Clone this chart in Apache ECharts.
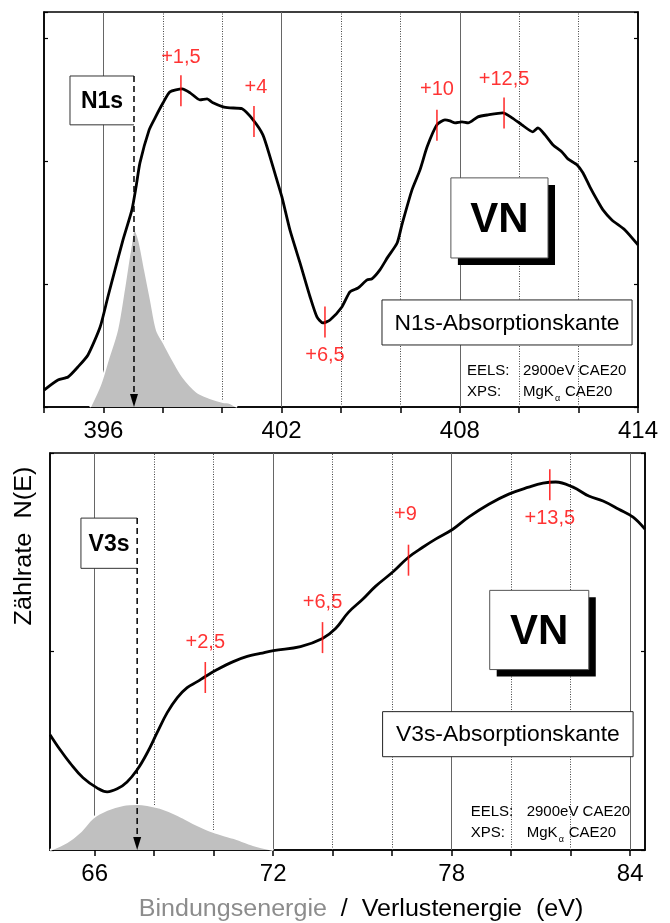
<!DOCTYPE html>
<html>
<head>
<meta charset="utf-8">
<title>VN N1s / V3s</title>
<script src="https://cdn.jsdelivr.net/npm/echarts@6.0.0/dist/echarts.min.js"></script>
<style>
html,body{margin:0;padding:0;background:#fff;}
#chart{width:670px;height:923px;}
</style>
</head>
<body>
<div id="chart"></div>
<script>
// ================= DATA =================
// Top panel: N1s absorption edge (EELS) and N1s XPS line
const n1sEelsEnergy = [394.00,394.47,394.81,395.14,395.48,395.89,396.15,396.39,396.66,396.96,397.10,397.23,397.54,397.74,398.01,398.24,398.65,398.92,399.25,399.49,399.69,400.03,400.26,400.67,401.04,401.37,401.61,401.81,402.01,402.28,402.62,402.96,403.19,403.39,403.63,404.03,404.30,404.57,404.88,405.04,405.31,405.58,405.89,406.05,406.39,406.66,406.90,407.23,407.50,407.67,407.84,408.07,408.28,408.61,408.95,409.45,409.76,410.09,410.46,410.63,410.87,411.14,411.44,411.64,411.95,412.15,412.38,412.62,412.82,413.12,413.56,414.00];
const n1sEelsCounts = [0.138,0.220,0.244,0.325,0.423,0.650,0.894,1.114,1.358,1.602,1.789,1.984,2.252,2.350,2.472,2.561,2.585,2.553,2.496,2.504,2.472,2.439,2.431,2.423,2.333,2.211,2.033,1.870,1.707,1.439,1.171,0.894,0.732,0.683,0.707,0.813,0.935,0.967,1.033,1.041,1.114,1.220,1.333,1.480,1.764,1.927,2.114,2.293,2.333,2.325,2.309,2.317,2.309,2.358,2.374,2.390,2.350,2.293,2.236,2.268,2.211,2.130,2.073,2.016,1.967,1.902,1.789,1.683,1.602,1.520,1.439,1.317];
const n1sXpsEnergy = [395.55,395.89,396.15,396.46,396.69,396.90,397.05,397.20,397.40,397.60,397.80,398.07,398.34,398.68,399.15,399.59,400.03,400.26,400.50];
const n1sXpsCounts = [0,0.179,0.382,0.626,0.951,1.276,1.447,1.358,1.114,0.870,0.626,0.504,0.382,0.244,0.122,0.073,0.041,0.033,0];
const n1sMarkEnergy = [398.61,401.07,403.46,407.23,409.49];
const n1sMarkCounts = [2.57,2.32,0.69,2.29,2.39];
const n1sMarkLabels = ['+1,5','+4','+6,5','+10','+12,5'];

// Bottom panel: V3s absorption edge (EELS) and V3s XPS line
const v3sEelsEnergy = [64.50,64.84,65.17,65.61,66.08,66.42,66.76,67.09,67.43,67.77,68.10,68.44,68.78,69.11,69.45,69.72,70.12,70.66,71.13,71.57,72.01,72.92,73.66,74.10,74.53,75.01,75.44,76.05,76.55,77.03,77.46,78.04,78.57,79.25,79.92,80.59,81.07,81.50,82.08,82.61,83.09,83.62,84.10,84.50];
const v3sEelsCounts = [0.581,0.505,0.439,0.364,0.313,0.293,0.308,0.343,0.404,0.490,0.591,0.692,0.768,0.818,0.848,0.874,0.909,0.949,0.975,0.990,1.005,1.025,1.066,1.116,1.197,1.263,1.328,1.404,1.475,1.525,1.566,1.616,1.677,1.742,1.793,1.828,1.848,1.854,1.828,1.783,1.758,1.717,1.677,1.616];
const v3sXpsEnergy = [64.50,65.07,65.51,65.95,66.42,66.96,67.43,67.77,68.20,68.78,69.31,69.99,70.66,71.33,72.01];
const v3sXpsCounts = [0,0.040,0.091,0.162,0.202,0.227,0.232,0.227,0.212,0.177,0.136,0.091,0.061,0.025,0];
const v3sMarkEnergy = [69.72,73.66,76.55,81.30];
const v3sMarkCounts = [0.869,1.07,1.46,1.84];
const v3sMarkLabels = ['+2,5','+6,5','+9','+13,5'];

// Axes
const topTicks = [394,396,398,400,402,404,406,408,410,412,414];
const topTickLabels = [396,402,408,414];
const topMajorGrid = [396,402,408];
const topMinorGrid = [398,400,404,406,410,412];
const bottomTicks = [66,68,70,72,74,76,78,80,82,84];
const bottomTickLabels = [66,72,78,84];
const bottomMajorGrid = [66,72,78,84];
const bottomMinorGrid = [68,70,74,76,80,82];

// Annotations (data units)
const n1sLineEnergy = 397.03;          // XPS N1s binding energy
const v3sLineEnergy = 67.43;           // XPS V3s binding energy

// ================= LAYOUT / STYLE =================
const FONT = '"Liberation Sans", Arial, Helvetica, sans-serif';
const n1sLabelOffset = [[0,-33],[2,-34],[0,33],[0,-36],[0,-33]];
const v3sLabelOffset = [[0,-35],[0,-35],[-3,-46],[0,34]];
const topAnno = {
  box: {x0: 394.875, x1: n1sLineEnergy, y0: 2.293, y1: 2.69, text: 'N1s'},
  vn: {x0: 407.70, x1: 410.97, y0: 1.211, y1: 1.862},
  edge: {x0: 405.38, x1: 413.80, y0: 0.504, y1: 0.870, text: 'N1s-Absorptionskante'},
  info: {x: 408.24, y0: 0.293, y1: 0.122}
};
const botAnno = {
  box: {x0: 65.54, x1: v3sLineEnergy, y0: 1.419, y1: 1.672, text: 'V3s'},
  vn: {x0: 79.28, x1: 82.61, y0: 0.909, y1: 1.308},
  edge: {x0: 75.68, x1: 84.10, y0: 0.470, y1: 0.697, text: 'V3s-Absorptionskante'},
  info: {x: 78.64, y0: 0.192, y1: 0.086}
};

const pairs = (xs, ys) => xs.map((x, i) => [x, ys[i]]);

const chart = echarts.init(document.getElementById('chart'), null, {renderer: 'canvas'});

function xAxisDef(gi, min, max, ticks, labels) {
  return {
    type: 'value', gridIndex: gi, min: min, max: max, position: 'bottom',
    axisLine: {show: true, onZero: false, lineStyle: {color: '#000', width: 1.5}},
    axisTick: {show: true, inside: false, length: 6, customValues: ticks, lineStyle: {color: '#000', width: 1.5}},
    axisLabel: {show: true, customValues: labels, margin: 12, color: '#000', fontSize: 24, fontFamily: FONT},
    splitLine: {show: false}
  };
}
function yAxisDef(gi, max, pos) {
  return {
    type: 'value', gridIndex: gi, min: 0, max: max, interval: 1, position: pos,
    axisLine: {show: true, lineStyle: {color: '#000', width: 1.5}},
    axisTick: {show: true, inside: true, length: 4, lineStyle: {color: '#000', width: 1.2}},
    axisLabel: {show: false},
    splitLine: {show: false}
  };
}
function gridSeries(xi, yi, major, minor) {
  return {
    type: 'line', xAxisIndex: xi, yAxisIndex: yi, data: [], z: 1, silent: true,
    markLine: {
      z: 1, silent: true, symbol: ['none', 'none'], label: {show: false}, animation: false,
      emphasis: {disabled: true},
      data: major.map(v => ({xAxis: v, lineStyle: {color: '#666', width: 1, type: 'solid'}}))
        .concat(minor.map(v => ({xAxis: v, lineStyle: {color: '#444', width: 1, type: [1, 1.5]}})))
    }
  };
}
function xpsSeries(xi, yi, xs, ys) {
  return {
    type: 'line', xAxisIndex: xi, yAxisIndex: yi, data: pairs(xs, ys), z: 2,
    smooth: 0.3, symbol: 'none', silent: true,
    lineStyle: {color: '#fff', width: 2},
    areaStyle: {color: '#c0c0c0', opacity: 1}
  };
}
function eelsSeries(xi, yi, xs, ys, smooth) {
  return {
    type: 'line', xAxisIndex: xi, yAxisIndex: yi, data: pairs(xs, ys), z: 3,
    smooth: smooth, symbol: 'none', silent: true,
    lineStyle: {color: '#000', width: 2.8}
  };
}
function markSeries(xi, yi, xs, ys, labels, offsets) {
  return {
    type: 'scatter', xAxisIndex: xi, yAxisIndex: yi, z: 4, silent: true,
    symbol: 'rect', symbolSize: [1.6, 31],
    itemStyle: {color: '#ff0000'},
    data: xs.map((x, i) => ({
      value: [x, ys[i]],
      label: {show: true, position: 'inside', offset: offsets[i], formatter: labels[i],
              color: '#ff0000', fontSize: 20, fontFamily: FONT}
    }))
  };
}

const option = {
  animation: false,
  backgroundColor: '#fff',
  grid: [
    {left: 44, top: 12, width: 594, height: 395, show: true, borderColor: '#000', borderWidth: 1.5, backgroundColor: 'transparent'},
    {left: 50, top: 453, width: 595, height: 397, show: true, borderColor: '#000', borderWidth: 1.5, backgroundColor: 'transparent'}
  ],
  xAxis: [
    xAxisDef(0, 394, 414, topTicks, topTickLabels),
    xAxisDef(1, 64.5, 84.5, bottomTicks, bottomTickLabels)
  ],
  yAxis: [
    yAxisDef(0, 3.21, 'left'), yAxisDef(0, 3.21, 'right'),
    yAxisDef(1, 2, 'left'), yAxisDef(1, 2, 'right')
  ],
  series: [
    gridSeries(0, 0, topMajorGrid, topMinorGrid),
    xpsSeries(0, 0, n1sXpsEnergy, n1sXpsCounts),
    eelsSeries(0, 0, n1sEelsEnergy, n1sEelsCounts, 0.2),
    markSeries(0, 0, n1sMarkEnergy, n1sMarkCounts, n1sMarkLabels, n1sLabelOffset),
    gridSeries(1, 2, bottomMajorGrid, bottomMinorGrid),
    xpsSeries(1, 2, v3sXpsEnergy, v3sXpsCounts),
    eelsSeries(1, 2, v3sEelsEnergy, v3sEelsCounts, 0.4),
    markSeries(1, 2, v3sMarkEnergy, v3sMarkCounts, v3sMarkLabels, v3sLabelOffset)
  ]
};
chart.setOption(option);

// ---------- annotations positioned through the axes ----------
function toPx(gi, x, y) {
  return chart.convertToPixel({xAxisIndex: gi, yAxisIndex: gi * 2}, [x, y]);
}
function annotations(gi, a, lineEnergy) {
  const els = [];
  // label box with dashed arrow down to the binding energy
  const b0 = toPx(gi, a.box.x0, a.box.y1), b1 = toPx(gi, a.box.x1, a.box.y0);
  const axisBase = toPx(gi, lineEnergy, 0);
  els.push({type: 'rect', z: 100, shape: {x: b0[0], y: b0[1], width: b1[0] - b0[0], height: b1[1] - b0[1]},
            style: {fill: '#fff', stroke: null}});
  els.push({type: 'polyline', z: 101, shape: {points: [[b1[0], b0[1]], [b0[0], b0[1]], [b0[0], b1[1]], [b1[0], b1[1]]]},
            style: {stroke: '#333', lineWidth: 1, fill: null}});
  els.push({type: 'text', z: 102, x: (b0[0] + b1[0]) / 2, y: (b0[1] + b1[1]) / 2 + 1,
            style: {text: a.box.text, fontSize: 23, fontWeight: 'bold', fontFamily: FONT, fill: '#000', align: 'center', verticalAlign: 'middle'}});
  els.push({type: 'line', z: 103, shape: {x1: axisBase[0], y1: b0[1], x2: axisBase[0], y2: axisBase[1] - 10},
            style: {stroke: '#000', lineWidth: 1.5, lineDash: [6, 4]}});
  els.push({type: 'polygon', z: 103, shape: {points: [[axisBase[0] - 4, axisBase[1] - 13], [axisBase[0] + 4, axisBase[1] - 13], [axisBase[0], axisBase[1]]]},
            style: {fill: '#000'}});
  // VN box with drop shadow
  const v0 = toPx(gi, a.vn.x0, a.vn.y1), v1 = toPx(gi, a.vn.x1, a.vn.y0);
  const vw = v1[0] - v0[0], vh = v1[1] - v0[1];
  els.push({type: 'rect', z: 100, shape: {x: v0[0] + 7, y: v0[1] + 7, width: vw, height: vh}, style: {fill: '#000'}});
  els.push({type: 'rect', z: 101, shape: {x: v0[0], y: v0[1], width: vw, height: vh}, style: {fill: '#fff', stroke: '#555', lineWidth: 1}});
  els.push({type: 'text', z: 102, x: v0[0] + vw / 2, y: v0[1] + vh / 2 + 2,
            style: {text: 'VN', fontSize: 42, fontWeight: 'bold', fontFamily: FONT, fill: '#000', align: 'center', verticalAlign: 'middle'}});
  // absorption-edge box
  const e0 = toPx(gi, a.edge.x0, a.edge.y1), e1 = toPx(gi, a.edge.x1, a.edge.y0);
  els.push({type: 'rect', z: 100, shape: {x: e0[0], y: e0[1], width: e1[0] - e0[0], height: e1[1] - e0[1]},
            style: {fill: '#fff', stroke: '#222', lineWidth: 1}});
  els.push({type: 'text', z: 102, x: (e0[0] + e1[0]) / 2, y: (e0[1] + e1[1]) / 2 + 1, scaleX: 1.04,
            style: {text: a.edge.text, fontSize: 22, fontFamily: FONT, fill: '#000', align: 'center', verticalAlign: 'middle'}});
  // measurement info
  const i0 = toPx(gi, a.info.x, a.info.y0), i1 = toPx(gi, a.info.x, a.info.y1);
  const tstyle = (t) => ({text: t, fontSize: 15, fontFamily: FONT, fill: '#000', align: 'left', verticalAlign: 'middle'});
  els.push({type: 'text', z: 102, x: i0[0], y: i0[1], style: tstyle('EELS:')});
  els.push({type: 'text', z: 102, x: i0[0] + 56, y: i0[1], style: tstyle('2900eV CAE20')});
  els.push({type: 'text', z: 102, x: i1[0], y: i1[1], style: tstyle('XPS:')});
  els.push({type: 'text', z: 102, x: i1[0] + 56, y: i1[1], style: tstyle('MgK')});
  els.push({type: 'text', z: 102, x: i1[0] + 88, y: i1[1] + 7, style: {text: 'α', fontSize: 9, fontFamily: FONT, fill: '#000', align: 'left', verticalAlign: 'middle'}});
  els.push({type: 'text', z: 102, x: i1[0] + 98, y: i1[1], style: tstyle('CAE20')});
  return els;
}

const graphics = annotations(0, topAnno, n1sLineEnergy).concat(annotations(1, botAnno, v3sLineEnergy));
// axis titles
graphics.push({type: 'text', z: 102, x: 25, y: 546, rotation: Math.PI / 2, scaleX: 1.1,
  style: {text: 'Zählrate  N(E)', fontSize: 23, fontFamily: FONT, fill: '#000', align: 'center', verticalAlign: 'middle'}});
graphics.push({type: 'text', z: 102, x: 361, y: 910, scaleX: 1.09,
  style: {text: '{g|Bindungsenergie}  /  Verlustenergie  (eV)', fontSize: 23, fontFamily: FONT, fill: '#000',
          align: 'center', verticalAlign: 'middle',
          rich: {g: {fontSize: 23, fontFamily: FONT, fill: '#8c8c8c', color: '#8c8c8c'}}}});
chart.setOption({graphic: {elements: graphics}});
</script>
</body>
</html>
